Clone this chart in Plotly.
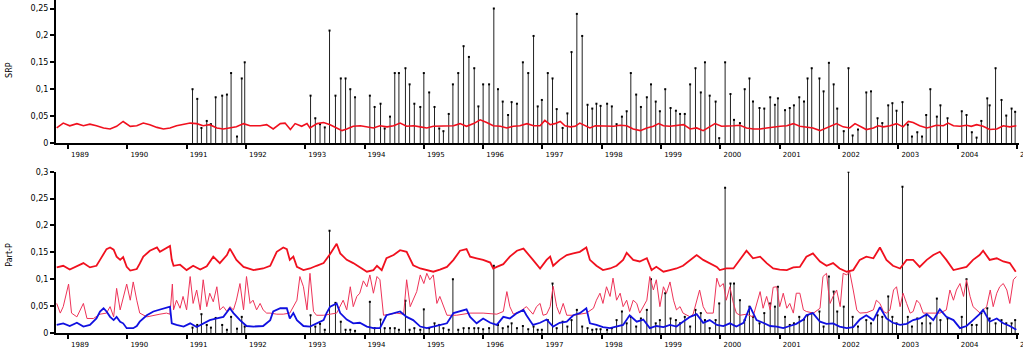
import plotly.graph_objects as go

# ---------------- data ----------------
year_ticks = list(range(1989, 2006))
year_labels = [str(y) for y in year_ticks]

srp_ticks = [0, 0.05, 0.1, 0.15, 0.2, 0.25]
srp_tick_labels = ["0", "0,05", "0,1", "0,15", "0,2", "0,25"]
pp_ticks = [0, 0.05, 0.1, 0.15, 0.2, 0.25, 0.3]
pp_tick_labels = ["0", "0,05", "0,1", "0,15", "0,2", "0,25", "0,3"]

# sampling dates (decimal years) shared by both sampled series
sample_dates = [
    1991.10, 1991.18, 1991.25, 1991.34, 1991.41, 1991.49, 1991.60, 1991.68, 1991.75, 1991.85, 1991.93, 1991.98,
    1993.09, 1993.17, 1993.25, 1993.33, 1993.41, 1993.51, 1993.60, 1993.68, 1993.76, 1993.84,
    1994.09, 1994.17, 1994.27, 1994.34, 1994.43, 1994.51, 1994.58, 1994.69, 1994.76, 1994.84, 1994.94,
    1995.00, 1995.09, 1995.18, 1995.26, 1995.33, 1995.42, 1995.49, 1995.58, 1995.67, 1995.76, 1995.85, 1995.92,
    1996.00, 1996.10, 1996.18, 1996.25, 1996.33, 1996.42, 1996.48, 1996.57, 1996.67, 1996.76, 1996.85, 1996.92,
    1996.99, 1997.09, 1997.17, 1997.24, 1997.34, 1997.42, 1997.49, 1997.58, 1997.67, 1997.76, 1997.84, 1997.91, 1997.98,
    1998.09, 1998.17, 1998.25, 1998.34, 1998.42, 1998.49, 1998.58, 1998.66, 1998.76, 1998.83, 1998.91, 1998.98,
    1999.07, 1999.16, 1999.25, 1999.32, 1999.40, 1999.49, 1999.58, 1999.67, 1999.74, 1999.82, 1999.92, 1999.98,
    2000.08, 2000.17, 2000.23, 2000.33, 2000.41, 2000.49, 2000.55, 2000.66, 2000.74, 2000.84, 2000.92, 2000.97,
    2001.09, 2001.17, 2001.24, 2001.33, 2001.41, 2001.47, 2001.54, 2001.67, 2001.74, 2001.83, 2001.91, 2001.97,
    2002.08, 2002.16, 2002.23, 2002.32, 2002.46, 2002.54, 2002.65, 2002.73, 2002.83, 2002.90, 2002.97,
    2003.07, 2003.16, 2003.23, 2003.32, 2003.40, 2003.47, 2003.54, 2003.65, 2003.71, 2003.83,
    2004.07, 2004.15, 2004.24, 2004.32, 2004.40, 2004.50, 2004.54, 2004.64, 2004.74, 2004.82, 2004.91, 2004.97,
]

srp_samples = [
    0.100, 0.082, 0.028, 0.041, 0.035, 0.085, 0.088, 0.090, 0.130, 0.012, 0.120, 0.150,
    0.088, 0.046, 0.035, 0.029, 0.209, 0.088, 0.120, 0.120, 0.100, 0.085,
    0.088, 0.067, 0.073, 0.027, 0.049, 0.130, 0.130, 0.139, 0.109, 0.073, 0.067,
    0.130, 0.094, 0.067, 0.027, 0.022, 0.054, 0.109, 0.130, 0.180, 0.160, 0.139, 0.068,
    0.109, 0.109, 0.250, 0.100, 0.077, 0.052, 0.076, 0.073, 0.150, 0.130, 0.199, 0.068,
    0.080, 0.130, 0.120, 0.063, 0.028, 0.055, 0.169, 0.240, 0.199, 0.071, 0.064, 0.073, 0.069,
    0.073, 0.068, 0.035, 0.049, 0.059, 0.130, 0.090, 0.067, 0.085, 0.109, 0.077, 0.059,
    0.100, 0.065, 0.060, 0.054, 0.054, 0.109, 0.139, 0.094, 0.150, 0.088, 0.077, 0.009,
    0.150, 0.091, 0.043, 0.037, 0.100, 0.120, 0.077, 0.065, 0.064, 0.085, 0.071, 0.083,
    0.061, 0.065, 0.070, 0.085, 0.077, 0.120, 0.139, 0.120, 0.096, 0.149, 0.109, 0.064,
    0.022, 0.139, 0.014, 0.025, 0.094, 0.096, 0.046, 0.037, 0.070, 0.074, 0.060,
    0.076, 0.034, 0.012, 0.020, 0.012, 0.052, 0.100, 0.049, 0.070, 0.046,
    0.059, 0.052, 0.020, 0.010, 0.041, 0.083, 0.070, 0.139, 0.080, 0.051, 0.064, 0.058,
]

partp_samples = [
    0.010, 0.015, 0.035, 0.015, 0.010, 0.028, 0.015, 0.006, 0.030, 0.008, 0.030, 0.012,
    0.033, 0.012, 0.017, 0.006, 0.190, 0.056, 0.021, 0.006, 0.006, 0.004,
    0.058, 0.009, 0.025, 0.009, 0.009, 0.009, 0.006, 0.060, 0.006, 0.009, 0.006,
    0.044, 0.009, 0.018, 0.015, 0.009, 0.006, 0.100, 0.006, 0.009, 0.009, 0.009, 0.009,
    0.007, 0.009, 0.125, 0.015, 0.009, 0.012, 0.018, 0.009, 0.013, 0.007, 0.012, 0.006,
    0.006, 0.024, 0.092, 0.009, 0.021, 0.012, 0.024, 0.043, 0.012, 0.009, 0.006, 0.007, 0.007,
    0.006, 0.009, 0.024, 0.040, 0.018, 0.030, 0.012, 0.027, 0.043, 0.100, 0.018, 0.024,
    0.074, 0.027, 0.024, 0.018, 0.030, 0.012, 0.043, 0.037, 0.024, 0.009, 0.024, 0.055,
    0.270, 0.092, 0.092, 0.061, 0.024, 0.049, 0.030, 0.018, 0.037, 0.055, 0.049, 0.086,
    0.030, 0.015, 0.018, 0.030, 0.025, 0.033, 0.037, 0.040, 0.012, 0.105, 0.077, 0.040,
    0.049, 0.300, 0.030, 0.012, 0.024, 0.018, 0.033, 0.030, 0.068, 0.030, 0.018,
    0.272, 0.030, 0.012, 0.027, 0.018, 0.033, 0.018, 0.064, 0.024, 0.027,
    0.030, 0.100, 0.015, 0.015, 0.037, 0.046, 0.027, 0.018, 0.024, 0.018, 0.018, 0.024,
]

# SRP continuous (red line, top panel)
srp_line_x = [
    1988.81, 1988.92, 1989.03, 1989.15, 1989.26, 1989.37, 1989.48, 1989.60, 1989.71, 1989.82, 1989.93,
    1990.05, 1990.16, 1990.27, 1990.38, 1990.50, 1990.61, 1990.72, 1990.83, 1990.95, 1991.06, 1991.17,
    1991.28, 1991.39, 1991.51, 1991.62, 1991.73, 1991.84, 1991.96, 1992.07, 1992.18,
    1992.24, 1992.35, 1992.46, 1992.58, 1992.66, 1992.75, 1992.83, 1992.94, 1993.03, 1993.08, 1993.20,
    1993.31, 1993.42, 1993.53, 1993.62, 1993.70, 1993.81, 1993.93, 1994.04, 1994.15, 1994.26, 1994.38,
    1994.49, 1994.60, 1994.71, 1994.83, 1994.94, 1995.05, 1995.16, 1995.27, 1995.39, 1995.50, 1995.61,
    1995.72, 1995.84, 1995.95, 1996.06, 1996.17, 1996.29, 1996.40, 1996.51, 1996.62, 1996.74, 1996.85, 1996.96,
    1997.04, 1997.13, 1997.21, 1997.30, 1997.38, 1997.47, 1997.55, 1997.63, 1997.72, 1997.80, 1997.89, 1997.97,
    1998.08, 1998.20, 1998.31, 1998.42, 1998.53, 1998.65, 1998.76, 1998.87, 1998.96, 1999.04, 1999.15,
    1999.26, 1999.38, 1999.49, 1999.60, 1999.71, 1999.83, 1999.91, 2000.02, 2000.11, 2000.22, 2000.33,
    2000.44, 2000.56, 2000.67, 2000.78, 2000.89, 2001.01, 2001.12, 2001.23, 2001.34,
    2001.45, 2001.56, 2001.68, 2001.79, 2001.90, 2001.96, 2002.07, 2002.18, 2002.27, 2002.35, 2002.46,
    2002.58, 2002.66, 2002.75, 2002.86, 2002.97, 2003.08, 2003.17, 2003.25, 2003.36, 2003.48, 2003.56,
    2003.64, 2003.76, 2003.84, 2003.93, 2004.04, 2004.15, 2004.23, 2004.32, 2004.43, 2004.54, 2004.66,
    2004.77, 2004.88, 2004.99,
]
srp_line_y = [
    0.028, 0.037, 0.032, 0.036, 0.032, 0.035, 0.032, 0.028, 0.026, 0.031, 0.040,
    0.031, 0.032, 0.037, 0.034, 0.029, 0.026, 0.028, 0.032, 0.034, 0.037, 0.036,
    0.032, 0.034, 0.028, 0.026, 0.028, 0.030, 0.036, 0.032, 0.032,
    0.032, 0.034, 0.026, 0.036, 0.037, 0.025, 0.036, 0.031, 0.036, 0.028, 0.036,
    0.038, 0.034, 0.028, 0.023, 0.026, 0.031, 0.032, 0.030, 0.028, 0.032, 0.030,
    0.032, 0.037, 0.031, 0.032, 0.030, 0.028, 0.031, 0.031, 0.032, 0.032, 0.036,
    0.031, 0.036, 0.043, 0.038, 0.032, 0.031, 0.028, 0.031, 0.032, 0.036, 0.032, 0.032,
    0.042, 0.034, 0.036, 0.040, 0.032, 0.030, 0.031, 0.037, 0.032, 0.028, 0.032, 0.032,
    0.032, 0.031, 0.033, 0.032, 0.026, 0.023, 0.028, 0.031, 0.036, 0.032, 0.031,
    0.032, 0.034, 0.026, 0.028, 0.023, 0.031, 0.036, 0.031, 0.032, 0.032, 0.033,
    0.028, 0.026, 0.026, 0.028, 0.030, 0.031, 0.032, 0.036, 0.031,
    0.030, 0.028, 0.023, 0.028, 0.032, 0.036, 0.030, 0.028, 0.036, 0.032, 0.025,
    0.028, 0.032, 0.030, 0.032, 0.036, 0.030, 0.040, 0.038, 0.032, 0.028, 0.030,
    0.033, 0.032, 0.037, 0.032, 0.031, 0.033, 0.031, 0.034, 0.031, 0.025, 0.026,
    0.032, 0.030, 0.032,
]

# Part-P: thick red line
pp_red_x = [
    1988.81, 1988.92, 1989.03, 1989.15, 1989.26, 1989.37, 1989.48, 1989.54, 1989.60, 1989.65, 1989.71,
    1989.77, 1989.82, 1989.88, 1989.93, 1989.99, 1990.05, 1990.16, 1990.21, 1990.27, 1990.38, 1990.50,
    1990.55, 1990.66, 1990.72, 1990.75, 1990.78, 1990.89, 1991.00, 1991.11, 1991.23, 1991.34, 1991.45,
    1991.56, 1991.68, 1991.73, 1991.84, 1991.96, 1992.13,
    1992.29, 1992.41, 1992.52, 1992.63, 1992.69, 1992.74, 1992.80, 1992.86, 1992.97, 1993.08, 1993.19,
    1993.31, 1993.42, 1993.53, 1993.59, 1993.70, 1993.81, 1993.92, 1994.04, 1994.15, 1994.21, 1994.29,
    1994.37, 1994.49, 1994.60, 1994.71, 1994.77, 1994.82, 1994.94, 1995.05, 1995.16, 1995.27, 1995.39,
    1995.50, 1995.61, 1995.72, 1995.78, 1995.89, 1996.00, 1996.12, 1996.17, 1996.23, 1996.34, 1996.45,
    1996.57, 1996.68,
    1996.73, 1996.84, 1996.96, 1997.07, 1997.13, 1997.18, 1997.29, 1997.41, 1997.52, 1997.63, 1997.74,
    1997.80, 1997.91, 1998.02, 1998.14, 1998.25, 1998.36, 1998.42, 1998.53, 1998.64, 1998.76, 1998.84,
    1998.92, 1999.04, 1999.15, 1999.26, 1999.37, 1999.49, 1999.60, 1999.71, 1999.82, 1999.94, 1999.99,
    2000.10, 2000.22, 2000.33, 2000.44, 2000.55, 2000.67, 2000.78, 2000.89, 2001.00, 2001.12, 2001.23,
    2001.34,
    2001.45, 2001.56, 2001.68, 2001.79, 2001.90, 2002.01, 2002.13, 2002.24, 2002.35, 2002.46, 2002.58,
    2002.69, 2002.80, 2002.91, 2003.03, 2003.14, 2003.25, 2003.36, 2003.48, 2003.59, 2003.70, 2003.81,
    2003.93, 2004.04, 2004.15, 2004.26, 2004.37, 2004.43, 2004.54, 2004.66, 2004.77, 2004.88, 2004.98,
]
pp_red_y = [
    0.122, 0.125, 0.118, 0.124, 0.130, 0.122, 0.125, 0.136, 0.148, 0.156, 0.159,
    0.155, 0.142, 0.136, 0.141, 0.123, 0.116, 0.119, 0.129, 0.142, 0.153, 0.159,
    0.151, 0.159, 0.162, 0.136, 0.125, 0.127, 0.117, 0.125, 0.118, 0.124, 0.142,
    0.130, 0.145, 0.157, 0.136, 0.123, 0.117,
    0.120, 0.125, 0.151, 0.159, 0.156, 0.136, 0.142, 0.123, 0.117, 0.120, 0.125,
    0.130, 0.147, 0.166, 0.148, 0.136, 0.130, 0.122, 0.114, 0.117, 0.125, 0.117,
    0.139, 0.145, 0.154, 0.151, 0.136, 0.126, 0.120, 0.117, 0.114, 0.118, 0.123,
    0.136, 0.153, 0.156, 0.142, 0.139, 0.136, 0.131, 0.120, 0.123, 0.128, 0.142,
    0.153, 0.157,
    0.151, 0.136, 0.120, 0.136, 0.142, 0.125, 0.136, 0.145, 0.148, 0.151, 0.159,
    0.136, 0.125, 0.117, 0.120, 0.125, 0.136, 0.149, 0.136, 0.133, 0.139, 0.117,
    0.123, 0.114, 0.117, 0.120, 0.125, 0.136, 0.145, 0.136, 0.130, 0.123, 0.117,
    0.120, 0.120, 0.136, 0.153, 0.139, 0.142, 0.130, 0.120, 0.118, 0.117, 0.122,
    0.123,
    0.142, 0.148, 0.133, 0.125, 0.130, 0.120, 0.114, 0.117, 0.136, 0.142, 0.139,
    0.159, 0.136, 0.125, 0.120, 0.136, 0.136, 0.123, 0.136, 0.145, 0.151, 0.136,
    0.117, 0.120, 0.123, 0.136, 0.145, 0.153, 0.136, 0.139, 0.133, 0.130, 0.114,
]

# Part-P: thin red line
pp_thin_x = [
    1988.81, 1988.87, 1988.92, 1989.01, 1989.06, 1989.15, 1989.26, 1989.32, 1989.43, 1989.54, 1989.65,
    1989.71, 1989.77, 1989.82, 1989.88, 1989.99, 1990.05, 1990.10, 1990.16, 1990.21, 1990.33, 1990.44,
    1990.55, 1990.66, 1990.72,
    1990.76, 1990.78, 1990.83, 1990.89, 1990.94, 1991.00, 1991.06, 1991.11, 1991.17, 1991.23, 1991.28,
    1991.34, 1991.39, 1991.45, 1991.51, 1991.56, 1991.62, 1991.68, 1991.73, 1991.79, 1991.84, 1991.90,
    1991.96, 1992.01, 1992.07, 1992.12, 1992.18, 1992.24, 1992.29, 1992.35,
    1992.41, 1992.52, 1992.63, 1992.74, 1992.86, 1992.91, 1992.97, 1993.03, 1993.08, 1993.14, 1993.19,
    1993.31, 1993.42, 1993.53, 1993.64, 1993.70, 1993.76, 1993.81, 1993.87, 1993.92, 1993.98, 1994.04,
    1994.09, 1994.15, 1994.21, 1994.26, 1994.32, 1994.43, 1994.54, 1994.66, 1994.71, 1994.77, 1994.82,
    1994.88, 1994.94, 1995.00, 1995.05, 1995.10, 1995.16, 1995.22, 1995.27, 1995.33, 1995.39, 1995.55,
    1995.78, 1996.00, 1996.23, 1996.34, 1996.40, 1996.45, 1996.51,
    1996.62, 1996.73, 1996.84, 1996.90, 1996.96, 1997.01, 1997.07, 1997.13, 1997.18, 1997.24, 1997.29,
    1997.35, 1997.41, 1997.52, 1997.63, 1997.74, 1997.86, 1997.91, 1997.97, 1998.02, 1998.08, 1998.14,
    1998.19, 1998.25, 1998.31, 1998.36, 1998.42, 1998.47, 1998.53, 1998.59, 1998.64, 1998.76, 1998.81,
    1998.87, 1998.92, 1998.98, 1999.04, 1999.09, 1999.15, 1999.21, 1999.26, 1999.32, 1999.37, 1999.49,
    1999.54, 1999.65, 1999.71, 1999.77, 1999.88, 1999.94, 1999.99, 2000.05, 2000.10, 2000.16, 2000.22,
    2000.27, 2000.33, 2000.44, 2000.55, 2000.67, 2000.72, 2000.78, 2000.84, 2000.89, 2000.95, 2001.00,
    2001.06, 2001.12, 2001.17, 2001.23, 2001.28,
    2001.34, 2001.40, 2001.45, 2001.57, 2001.68, 2001.73, 2001.79, 2001.82, 2001.85, 2001.90, 2001.96,
    2002.02, 2002.07, 2002.13, 2002.18, 2002.24, 2002.30, 2002.35, 2002.47, 2002.58, 2002.63, 2002.69,
    2002.75, 2002.80, 2002.86, 2002.92, 2002.97, 2003.03, 2003.08, 2003.14, 2003.20, 2003.25, 2003.31,
    2003.36, 2003.42, 2003.70, 2003.81, 2003.87, 2003.93, 2003.98, 2004.04, 2004.10, 2004.15, 2004.21,
    2004.26, 2004.38, 2004.49, 2004.55, 2004.60, 2004.66, 2004.71, 2004.77, 2004.83, 2004.88, 2004.94,
    2004.99,
]
pp_thin_y = [
    0.055, 0.037, 0.049, 0.091, 0.037, 0.030, 0.055, 0.027, 0.027, 0.035, 0.037,
    0.049, 0.030, 0.083, 0.043, 0.091, 0.061, 0.095, 0.061, 0.037, 0.030, 0.033,
    0.035, 0.037, 0.035,
    0.091, 0.043, 0.061, 0.046, 0.068, 0.043, 0.105, 0.055, 0.080, 0.043, 0.099,
    0.049, 0.074, 0.058, 0.086, 0.043, 0.049, 0.040, 0.049, 0.043, 0.061, 0.092,
    0.043, 0.105, 0.055, 0.061, 0.043, 0.055, 0.043, 0.037,
    0.037, 0.035, 0.035, 0.037, 0.061, 0.105, 0.086, 0.043, 0.111, 0.040, 0.033,
    0.033, 0.035, 0.037, 0.061, 0.043, 0.086, 0.049, 0.068, 0.074, 0.097, 0.086,
    0.108, 0.074, 0.105, 0.099, 0.033, 0.035, 0.037, 0.035, 0.099, 0.049, 0.061,
    0.077, 0.108, 0.092, 0.111, 0.099, 0.108, 0.055, 0.068, 0.049, 0.033, 0.033,
    0.037, 0.037, 0.035, 0.040, 0.077, 0.049, 0.035,
    0.040, 0.049, 0.035, 0.049, 0.055, 0.033, 0.035, 0.049, 0.087, 0.049, 0.035,
    0.055, 0.033, 0.033, 0.035, 0.037, 0.046, 0.061, 0.074, 0.055, 0.086, 0.068,
    0.102, 0.061, 0.074, 0.049, 0.061, 0.040, 0.061, 0.055, 0.037, 0.061, 0.105,
    0.080, 0.099, 0.049, 0.086, 0.074, 0.095, 0.061, 0.043, 0.049, 0.037, 0.030,
    0.035, 0.080, 0.049, 0.037, 0.037, 0.102, 0.086, 0.092, 0.061, 0.086, 0.055,
    0.037, 0.033, 0.035, 0.030, 0.077, 0.046, 0.068, 0.043, 0.085, 0.086, 0.049,
    0.074, 0.046, 0.055, 0.037, 0.074,
    0.074, 0.043, 0.040, 0.037, 0.046, 0.105, 0.111, 0.080, 0.055, 0.068, 0.080,
    0.049, 0.111, 0.108, 0.114, 0.080, 0.043, 0.037, 0.038, 0.043, 0.061, 0.055,
    0.040, 0.037, 0.043, 0.080, 0.086, 0.049, 0.074, 0.055, 0.037, 0.040, 0.061,
    0.055, 0.037, 0.037, 0.043, 0.080, 0.061, 0.080, 0.092, 0.068, 0.099, 0.068,
    0.049, 0.037, 0.049, 0.080, 0.049, 0.074, 0.086, 0.092, 0.080, 0.055, 0.099,
    0.105,
]

# Part-P: blue line
pp_blue_x = [
    1988.81, 1988.92, 1989.03, 1989.15, 1989.26, 1989.37, 1989.48, 1989.54, 1989.60, 1989.65, 1989.71,
    1989.77, 1989.82, 1989.88, 1989.93, 1989.99, 1990.10, 1990.16, 1990.21, 1990.33, 1990.44, 1990.55,
    1990.66, 1990.72, 1990.75, 1990.83, 1990.95, 1991.06, 1991.17, 1991.28, 1991.39, 1991.51, 1991.62,
    1991.73, 1991.79, 1991.90, 1992.01, 1992.13,
    1992.29, 1992.41, 1992.46, 1992.58, 1992.69, 1992.74, 1992.80, 1992.86, 1992.97, 1993.08, 1993.19,
    1993.31, 1993.36, 1993.42, 1993.53, 1993.59, 1993.70, 1993.81, 1993.92, 1994.04, 1994.15, 1994.26,
    1994.37, 1994.49, 1994.60, 1994.71, 1994.82, 1994.94, 1995.05, 1995.16, 1995.27, 1995.39, 1995.50,
    1995.61, 1995.72, 1995.78, 1995.89, 1996.00, 1996.12, 1996.23, 1996.34, 1996.45, 1996.57, 1996.68,
    1996.73, 1996.84, 1996.96, 1997.07, 1997.18, 1997.29, 1997.41, 1997.52, 1997.63, 1997.74, 1997.80,
    1997.91, 1998.02, 1998.14, 1998.25, 1998.36, 1998.47, 1998.59, 1998.70, 1998.81, 1998.92, 1999.04,
    1999.15, 1999.26, 1999.37, 1999.49, 1999.60, 1999.71, 1999.82, 1999.94, 2000.05, 2000.16, 2000.27,
    2000.39, 2000.50, 2000.61, 2000.72, 2000.84, 2000.95, 2001.06, 2001.17, 2001.28, 2001.40,
    2001.45, 2001.56, 2001.68, 2001.79, 2001.90, 2002.01, 2002.13, 2002.24, 2002.35, 2002.46, 2002.58,
    2002.69, 2002.80, 2002.91, 2003.03, 2003.14, 2003.25, 2003.36, 2003.48, 2003.59, 2003.70, 2003.81,
    2003.93, 2004.04, 2004.15, 2004.26, 2004.37, 2004.43, 2004.54, 2004.66, 2004.77, 2004.88, 2004.99,
]
pp_blue_y = [
    0.015, 0.018, 0.013, 0.019, 0.012, 0.015, 0.027, 0.040, 0.046, 0.040, 0.030,
    0.024, 0.030, 0.021, 0.018, 0.009, 0.009, 0.013, 0.021, 0.033, 0.040, 0.043,
    0.046, 0.049, 0.018, 0.015, 0.012, 0.018, 0.011, 0.018, 0.024, 0.027, 0.030,
    0.046, 0.037, 0.024, 0.013, 0.012,
    0.013, 0.024, 0.040, 0.046, 0.046, 0.027, 0.037, 0.024, 0.013, 0.012, 0.018,
    0.024, 0.037, 0.049, 0.055, 0.037, 0.025, 0.018, 0.019, 0.012, 0.009, 0.009,
    0.033, 0.037, 0.040, 0.030, 0.024, 0.012, 0.009, 0.012, 0.015, 0.018, 0.037,
    0.040, 0.044, 0.030, 0.018, 0.027, 0.019, 0.015, 0.030, 0.027, 0.037, 0.043,
    0.033, 0.015, 0.019, 0.025, 0.012, 0.019, 0.021, 0.033, 0.037, 0.046, 0.018,
    0.015, 0.011, 0.009, 0.012, 0.015, 0.033, 0.021, 0.025, 0.009, 0.013, 0.011,
    0.015, 0.012, 0.021, 0.030, 0.035, 0.019, 0.024, 0.015, 0.013, 0.018, 0.012,
    0.019, 0.049, 0.024, 0.019, 0.013, 0.012, 0.009, 0.013, 0.017, 0.025,
    0.033, 0.037, 0.021, 0.017, 0.018, 0.012, 0.009, 0.011, 0.025, 0.033, 0.024,
    0.048, 0.027, 0.019, 0.015, 0.017, 0.024, 0.027, 0.035, 0.024, 0.044, 0.030,
    0.024, 0.009, 0.013, 0.024, 0.035, 0.043, 0.021, 0.027, 0.018, 0.013, 0.006,
]

# ---------------- figure ----------------
FONT = "DejaVu Sans, Verdana, sans-serif"


def stem_xy(xs, ys):
    sx, sy = [], []
    for a, b in zip(xs, ys):
        sx += [a, a, None]
        sy += [0, b, None]
    return sx, sy


fig = go.Figure()

# top panel: SRP
sx, sy = stem_xy(sample_dates, srp_samples)
fig.add_trace(go.Scatter(x=sx, y=sy, mode="lines", line=dict(color="#222222", width=1),
                         xaxis="x", yaxis="y", hoverinfo="skip", showlegend=False))
fig.add_trace(go.Scatter(x=sample_dates, y=srp_samples, mode="markers",
                         marker=dict(color="black", size=2, symbol="square"),
                         xaxis="x", yaxis="y", showlegend=False))
fig.add_trace(go.Scatter(x=srp_line_x, y=srp_line_y, mode="lines",
                         line=dict(color="#f0101e", width=1.6),
                         xaxis="x", yaxis="y", showlegend=False))

# bottom panel: Part-P
sx2, sy2 = stem_xy(sample_dates, partp_samples)
fig.add_trace(go.Scatter(x=sx2, y=sy2, mode="lines", line=dict(color="#222222", width=1),
                         xaxis="x2", yaxis="y2", hoverinfo="skip", showlegend=False))
fig.add_trace(go.Scatter(x=sample_dates, y=partp_samples, mode="markers",
                         marker=dict(color="black", size=2, symbol="square"),
                         xaxis="x2", yaxis="y2", showlegend=False))
fig.add_trace(go.Scatter(x=pp_thin_x, y=pp_thin_y, mode="lines",
                         line=dict(color="#ee3358", width=1),
                         xaxis="x2", yaxis="y2", showlegend=False))
fig.add_trace(go.Scatter(x=pp_red_x, y=pp_red_y, mode="lines",
                         line=dict(color="#f0101e", width=1.8),
                         xaxis="x2", yaxis="y2", showlegend=False))
fig.add_trace(go.Scatter(x=pp_blue_x, y=pp_blue_y, mode="lines",
                         line=dict(color="#1010e0", width=1.8),
                         xaxis="x2", yaxis="y2", showlegend=False))

x_range = [1988.798, 2005.035]
xcommon = dict(range=x_range, showgrid=False, zeroline=False, showline=True,
               linecolor="black", linewidth=2, ticks="outside", ticklen=4,
               tickwidth=1.5, tickcolor="black", tickvals=year_ticks, ticktext=year_labels,
               tickfont=dict(family=FONT, size=7, color="black"),
               ticklabelshift=12, ticklabeloverflow="allow", automargin=False)
ycommon = dict(showgrid=False, zeroline=False, showline=True, linecolor="black",
               linewidth=2, ticks="outside", ticklen=4, tickwidth=1.5, tickcolor="black",
               tickfont=dict(family=FONT, size=8, color="black"), automargin=False)

fig.update_layout(
    width=1023, height=353,
    margin=dict(l=56, r=4, t=0, b=20, autoexpand=False),
    paper_bgcolor="white", plot_bgcolor="white",
    showlegend=False,
    xaxis=dict(xcommon, anchor="y", domain=[0, 1]),
    yaxis=dict(ycommon, anchor="x", domain=[0.5706, 1.0], range=[0, 0.2658],
               tickvals=srp_ticks, ticktext=srp_tick_labels),
    xaxis2=dict(xcommon, anchor="y2", domain=[0, 1]),
    yaxis2=dict(ycommon, anchor="x2", domain=[0, 0.4844], range=[0, 0.3],
                tickvals=pp_ticks, ticktext=pp_tick_labels),
    annotations=[
        dict(text="SRP", xref="paper", yref="paper", x=0, y=0.79, xanchor="center",
             yanchor="middle", xshift=-46, textangle=-90, showarrow=False,
             font=dict(family=FONT, size=8, color="black")),
        dict(text="Part-P", xref="paper", yref="paper", x=0, y=0.235, xanchor="center",
             yanchor="middle", xshift=-46, textangle=-90, showarrow=False,
             font=dict(family=FONT, size=8, color="black")),
    ],
)

fig.write_html("out.html")
